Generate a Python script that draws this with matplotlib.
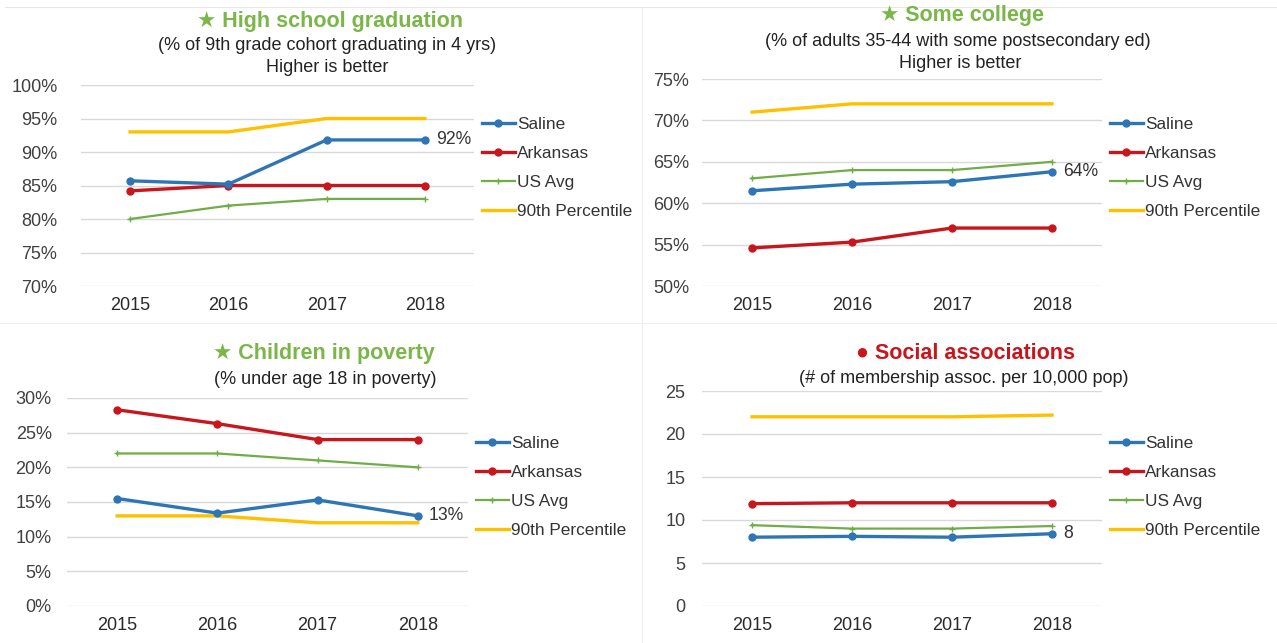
import matplotlib
matplotlib.use("Agg")
import matplotlib.pyplot as plt
from matplotlib.lines import Line2D
from matplotlib.ticker import FuncFormatter

plt.rcParams['font.family'] = ['Liberation Sans', 'DejaVu Sans']

W, H = 1277, 643

years = [2015, 2016, 2017, 2018]
series_names = ['Saline', 'Arkansas', 'US Avg', '90th Percentile']

# high school graduation (%)
grad_saline = [85.7, 85.2, 91.8, 91.8]
grad_arkansas = [84.2, 85.0, 85.0, 85.0]
grad_us = [80, 82, 83, 83]
grad_p90 = [93, 93, 95, 95]

# some college (%)
coll_saline = [61.5, 62.3, 62.6, 63.8]
coll_arkansas = [54.6, 55.3, 57.0, 57.0]
coll_us = [63, 64, 64, 65]
coll_p90 = [71, 72, 72, 72]

# children in poverty (%)
pov_saline = [15.5, 13.4, 15.3, 13.0]
pov_arkansas = [28.3, 26.3, 24.0, 24.0]
pov_us = [22, 22, 21, 20]
pov_p90 = [13, 13, 12, 12]

# social associations (per 10,000)
soc_saline = [8.0, 8.1, 8.0, 8.4]
soc_arkansas = [11.9, 12.0, 12.0, 12.0]
soc_us = [9.4, 9.0, 9.0, 9.3]
soc_p90 = [22.0, 22.0, 22.0, 22.2]

colors = ['#2E75B6', '#C8161D', '#70AD47', '#FFC000']
green_title = '#7AB648'
red_title = '#C8161D'


def box(x0, y0, x1, y1):
    # pixel box (top-left origin) -> figure fraction rect
    return [x0 / W, 1 - y1 / H, (x1 - x0) / W, (y1 - y0) / H]


def fx(x):
    return x / W


def fy(y):
    return 1 - y / H


fig = plt.figure(figsize=(W / 100, H / 100), dpi=100)

# faint panel separators
fig.add_artist(Line2D([fx(5), 1], [fy(7), fy(7)], color='#E6E6E6', lw=0.8))
fig.add_artist(Line2D([0, 1], [fy(323), fy(323)], color='#EDEDED', lw=0.8))
fig.add_artist(Line2D([fx(642), fx(642)], [0, fy(7)], color='#EDEDED', lw=0.8))


def panel(rect, ylim, step, data, pct, last_label, leg_y, ypad):
    ax = fig.add_axes(rect)
    s, a, u, p = data
    ax.plot(years, p, color=colors[3], lw=2.4, label=series_names[3], zorder=2)
    ax.plot(years, u, color=colors[2], lw=1.6, marker='+', ms=5, mew=1,
            label=series_names[2], zorder=3)
    ax.plot(years, a, color=colors[1], lw=2.4, marker='o', ms=5,
            label=series_names[1], zorder=4)
    ax.plot(years, s, color=colors[0], lw=2.4, marker='o', ms=5,
            label=series_names[0], zorder=5)
    ax.set_xlim(2014.5, 2018.5)
    ax.set_ylim(*ylim)
    ax.set_yticks(range(ylim[0], ylim[1] + 1, step))
    if pct:
        ax.yaxis.set_major_formatter(FuncFormatter(lambda v, _: f'{v:.0f}%'))
    ax.set_xticks(years)
    ax.grid(axis='y', color='#D9D9D9', lw=1)
    ax.set_axisbelow(True)
    for sp in ax.spines.values():
        sp.set_visible(False)
    ax.tick_params(length=0, labelsize=13, colors='#404040')
    ax.tick_params(axis='y', pad=ypad)
    ax.tick_params(axis='x', pad=8, labelsize=13, labelcolor='#2A2A2A')
    ax.annotate(last_label, (years[-1], s[-1]), xytext=(8, 0),
                textcoords='offset points', va='center', ha='left',
                fontsize=12.7, color='#333333')
    h, l = ax.get_legend_handles_labels()
    order = [3, 2, 1, 0]
    ax.legend([h[i] for i in order], [l[i] for i in order], loc='center left',
              bbox_to_anchor=(1.02, leg_y), frameon=False, fontsize=12.4,
              handlelength=1.9, handletextpad=0.15, labelspacing=0.8,
              borderaxespad=0, borderpad=0, labelcolor='#333333')
    return ax


panel(box(81, 85, 474, 286), (70, 100), 5,
      (grad_saline, grad_arkansas, grad_us, grad_p90), True, '92%', 0.587, 17)
panel(box(702, 79, 1102, 286), (50, 75), 5,
      (coll_saline, coll_arkansas, coll_us, coll_p90), True, '64%', 0.57, 9)
panel(box(67, 398, 468, 606), (0, 30), 5,
      (pov_saline, pov_arkansas, pov_us, pov_p90), True, '13%', 0.572, 11)
panel(box(702, 391, 1102, 606), (0, 25), 5,
      (soc_saline, soc_arkansas, soc_us, soc_p90), False, '8', 0.553, 12)

# titles
tkw = dict(ha='center', va='center', fontsize=15.5, fontweight='bold')
skw = dict(ha='center', va='center', fontsize=13, color='#222222')

fig.text(fx(330), fy(22), '\u2605 High school graduation', color=green_title, **tkw)
fig.text(fx(327), fy(46), '(% of 9th grade cohort graduating in 4 yrs)', **skw)
fig.text(fx(327), fy(68), 'Higher is better', **skw)

fig.text(fx(962), fy(16), '\u2605 Some college', color=green_title, **tkw)
fig.text(fx(958), fy(42), '(% of adults 35-44 with some postsecondary ed)', **skw)
fig.text(fx(960), fy(63), 'Higher is better', **skw)

fig.text(fx(324), fy(354), '\u2605 Children in poverty', color=green_title, **tkw)
fig.text(fx(325), fy(379), '(% under age 18 in poverty)', **skw)

fig.text(fx(965), fy(353), '\u25CF Social associations', color=red_title, **tkw)
fig.text(fx(964), fy(378), '(# of membership assoc. per 10,000 pop)', **skw)

fig.savefig('out.png', dpi=100, facecolor='white')
